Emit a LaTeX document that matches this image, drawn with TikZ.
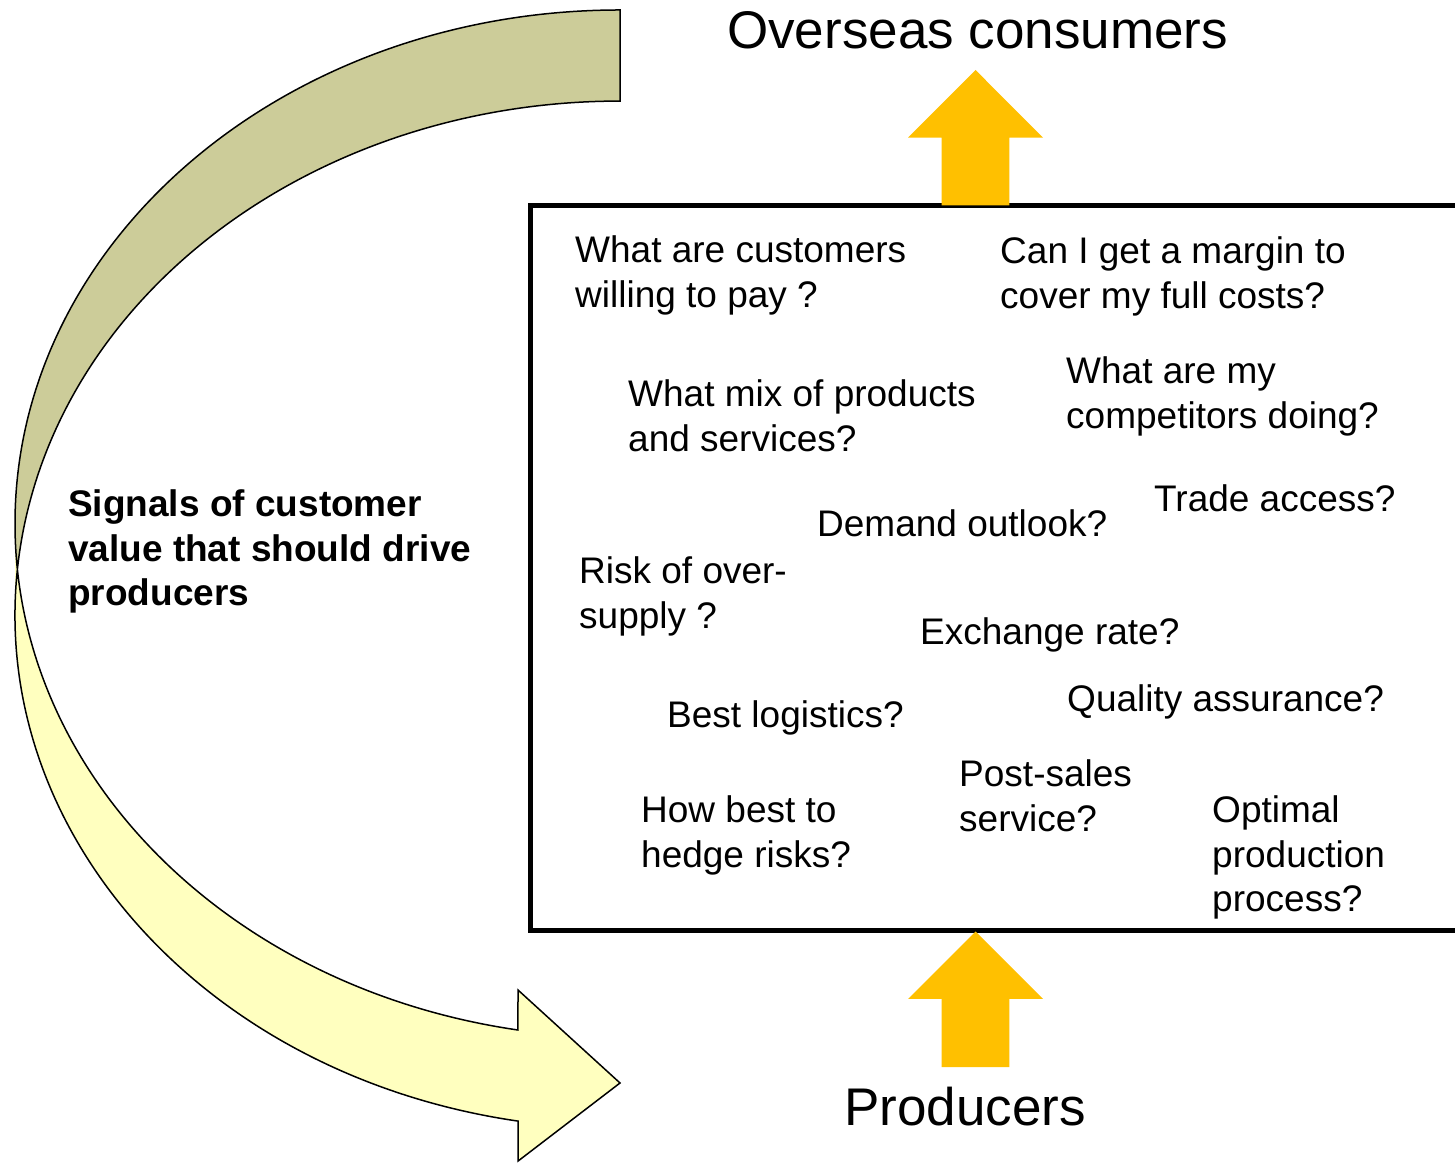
\documentclass[tikz,border=0pt]{standalone}
\usepackage{fontspec}
\setmainfont{Liberation Sans}
\definecolor{frontband}{HTML}{FFFFBF}
\definecolor{backband}{HTML}{CCCC99}
\definecolor{goldarrow}{HTML}{FFC000}
\tikzset{
  qtext/.style={anchor=base west, inner sep=0pt, font=\fontsize{37}{44.5}\selectfont},
  sigtext/.style={anchor=base west, inner sep=0pt, font=\fontsize{37}{44.5}\selectfont\bfseries},
  titletext/.style={anchor=base west, inner sep=0pt, font=\fontsize{53}{60}\selectfont},
  bandoutline/.style={draw=black, line width=1.5pt, line join=miter},
  blockarrow/.style={fill=goldarrow},
}
\begin{document}
\begin{tikzpicture}[x=1pt,y=1pt]
\useasboundingbox (0,0) rectangle (1455,1164);
\clip (0,0) rectangle (1455,1164);
\fill[white] (0,0) rectangle (1455,1164);

% curved arrow: front (yellow) band
\fill[frontband] (15,640.3)
  arc[start angle=180, end angle=260.29, x radius=605, y radius=513.7]
  -- (518,174) -- (620,81) -- (518,2.9) -- (518,42.9)
  arc[start angle=260.29, end angle=180, x radius=605, y radius=513.7]
  -- cycle;
% back (olive) band
\fill[backband] (620,1063)
  arc[start angle=90, end angle=174.92, x radius=605, y radius=513.7]
  arc[start angle=185.08, end angle=90, x radius=605, y radius=513.7]
  -- cycle;
% outline
\draw[bandoutline] (15,640.3)
  arc[start angle=180, end angle=260.29, x radius=605, y radius=513.7]
  -- (518,174) -- (620,81) -- (518,2.9) -- (518,42.9)
  arc[start angle=260.29, end angle=90, x radius=605, y radius=513.7]
  -- (620,1154)
  arc[start angle=90, end angle=180, x radius=605, y radius=513.7]
  -- cycle;

% box
\draw[line width=5pt] (530,233) rectangle (1490,958);

% block arrows
\fill[blockarrow] (941.7,958.5) -- (941.7,1026.3) -- (908,1026.3) -- (975.5,1094)
  -- (1043,1026.3) -- (1009.3,1026.3) -- (1009.3,958.5) -- cycle;
\fill[blockarrow] (941.7,97) -- (941.7,165) -- (908,165) -- (975.5,232.5)
  -- (1043,165) -- (1009.3,165) -- (1009.3,97) -- cycle;

% titles
\node[titletext] (overseas) at (727,1115) {Overseas consumers};
\node[titletext] (producers) at (844,39) {Producers};

% side label
\node[sigtext] (signals) at (68,647) {\begin{tabular}[t]{@{}l@{}}Signals of customer\\value that should drive\\producers\end{tabular}};

% questions
\node[qtext] (q1) at (575,901) {\begin{tabular}[t]{@{}l@{}}What are customers\\willing to pay ?\end{tabular}};
\node[qtext] (q2) at (1000,900) {\begin{tabular}[t]{@{}l@{}}Can I get a margin to\\cover my full costs?\end{tabular}};
\node[qtext] (q3) at (628,757) {\begin{tabular}[t]{@{}l@{}}What mix of products\\and services?\end{tabular}};
\node[qtext] (q4) at (1066,780) {\begin{tabular}[t]{@{}l@{}}What are my\\competitors doing?\end{tabular}};
\node[qtext] (q5) at (1154,652) {Trade access?};
\node[qtext] (q6) at (817,627) {Demand outlook?};
\node[qtext] (q7) at (579,580) {\begin{tabular}[t]{@{}l@{}}Risk of over-\\supply ?\end{tabular}};
\node[qtext] (q8) at (920,519) {Exchange rate?};
\node[qtext] (q9) at (1067,452) {Quality assurance?};
\node[qtext] (q10) at (667,436) {Best logistics?};
\node[qtext] (q11) at (959,377) {\begin{tabular}[t]{@{}l@{}}Post-sales\\service?\end{tabular}};
\node[qtext] (q12) at (641,341) {\begin{tabular}[t]{@{}l@{}}How best to\\hedge risks?\end{tabular}};
\node[qtext] (q13) at (1212,341) {\begin{tabular}[t]{@{}l@{}}Optimal\\production\\process?\end{tabular}};
\end{tikzpicture}
\end{document}
